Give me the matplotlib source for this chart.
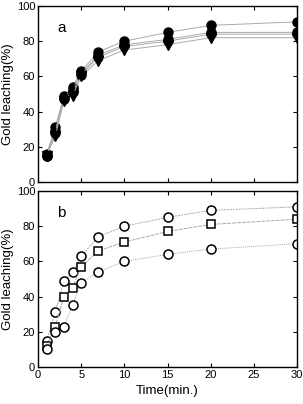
import numpy as np
import matplotlib
matplotlib.use('Agg')
import matplotlib.pyplot as plt

plt.rcParams['font.family'] = ['Liberation Sans', 'DejaVu Sans']

# time points (min)
time = [1, 2, 3, 4, 5, 7, 10, 15, 20, 30]

# panel a - four runs, nearly overlapping
a1 = [16, 31, 49, 54, 63, 74, 80, 85, 89, 91]
a2 = [15, 29, 48, 53, 62, 72, 78, 81, 85, 85]
a3 = [15, 28, 47, 51, 61, 71, 77, 80, 84, 84]
a4 = [15, 26, 46, 49, 60, 69, 75, 78, 82, 82]

# panel b
b_circ_hi = [15, 31, 49, 54, 63, 74, 80, 85, 89, 91]
b_square = [12, 23, 40, 45, 57, 66, 71, 77, 81, 84]
b_circ_lo = [10, 20, 23, 35, 48, 54, 60, 64, 67, 70]

fig = plt.figure(figsize=(3.03, 4.04), dpi=100)
ax1 = fig.add_axes([38/303, 1 - 182/404, 259/303, 176/404])
ax2 = fig.add_axes([38/303, 1 - 367/404, 259/303, 176/404])

line_kw = dict(color='#aaaaaa', lw=0.7)
ax1.plot(time, a1, marker='o', ms=6.5, mfc='black', mec='black', **line_kw)
ax1.plot(time, a2, marker='o', ms=6.5, mfc='black', mec='black', **line_kw)
ax1.plot(time, a3, marker='o', ms=6.5, mfc='black', mec='black', **line_kw)
ax1.plot(time, a4, marker='v', ms=6.5, mfc='black', mec='black', **line_kw)

ax2.plot(time, b_circ_hi, marker='o', ms=6.5, mfc='white', mec='black', mew=1.1,
         ls=(0, (2, 1)), **line_kw)
ax2.plot(time, b_square, marker='s', ms=6, mfc='white', mec='black', mew=1.1,
         ls=(0, (4, 1)), **line_kw)
ax2.plot(time, b_circ_lo, marker='o', ms=6.5, mfc='white', mec='black', mew=1.1,
         ls=(0, (1, 1)), **line_kw)

for ax, lab in ((ax1, 'a'), (ax2, 'b')):
    ax.set_xlim(0, 30)
    ax.set_ylim(0, 100)
    ax.set_xticks(np.arange(0, 31, 5))
    ax.set_yticks(np.arange(0, 101, 20))
    ax.tick_params(direction='in', top=True, right=True, length=3, width=0.8,
                   labelsize=8, pad=2)
    for s in ax.spines.values():
        s.set_linewidth(1.0)
    ax.set_ylabel('Gold leaching(%)', fontsize=9.5, labelpad=2)
    ax.text(0.075, 0.85, lab, transform=ax.transAxes, fontsize=11)

ax1.tick_params(labelbottom=False)
ax2.set_xlabel('Time(min.)', fontsize=9.5, labelpad=4)

fig.savefig('out.png', dpi=100)
